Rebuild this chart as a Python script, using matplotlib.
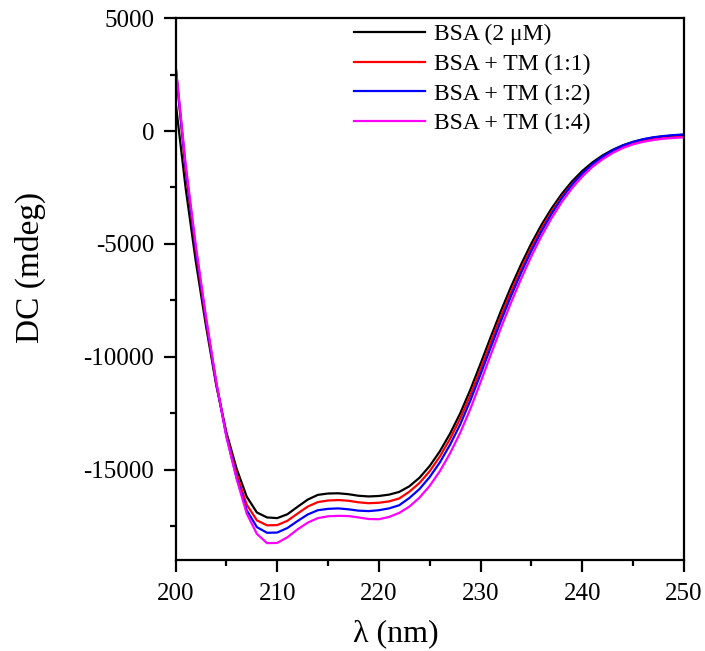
import matplotlib
matplotlib.use('Agg')
import matplotlib.pyplot as plt
from matplotlib.ticker import MultipleLocator

plt.rcParams['font.family'] = ['Liberation Serif', 'DejaVu Serif']
plt.rcParams['axes.unicode_minus'] = False

# wavelength (nm), 1 nm steps
wl = list(range(200, 251))

bsa = [1300, -2550, -5800, -8650, -11250, -13350, -14950, -16200, -16900, -17120,
       -17150, -16980, -16650, -16330, -16120, -16060, -16050, -16090, -16160, -16190,
       -16170, -16110, -15990, -15740, -15360, -14840, -14190, -13410, -12510, -11460,
       -10310, -9130, -7980, -6900, -5900, -4980, -4150, -3420, -2780, -2230,
       -1770, -1390, -1080, -830, -630, -480, -370, -290, -235, -195,
       -165]
tm_11 = [2850, -1800, -5350, -8450, -11200, -13450, -15200, -16550, -17250, -17470,
         -17460, -17270, -16950, -16640, -16440, -16370, -16350, -16380, -16450, -16490,
         -16470, -16410, -16280, -15980, -15590, -15070, -14420, -13640, -12740, -11700,
         -10550, -9370, -8210, -7120, -6100, -5170, -4320, -3570, -2910, -2350,
         -1880, -1490, -1170, -915, -710, -555, -445, -365, -310, -275,
         -250]
tm_12 = [2900, -1650, -5250, -8350, -11150, -13500, -15350, -16800, -17550, -17800,
         -17790, -17590, -17280, -16990, -16800, -16740, -16720, -16760, -16820, -16840,
         -16800, -16720, -16580, -16260, -15860, -15330, -14680, -13900, -13000, -11940,
         -10780, -9590, -8420, -7310, -6270, -5310, -4440, -3660, -2970, -2380,
         -1880, -1470, -1130, -860, -640, -480, -360, -275, -220, -180,
         -150]
tm_14 = [2950, -1500, -5100, -8250, -11100, -13550, -15400, -16950, -17850, -18260,
         -18250, -18000, -17650, -17350, -17150, -17070, -17050, -17060, -17120, -17190,
         -17200, -17100, -16920, -16640, -16240, -15720, -15070, -14280, -13370, -12310,
         -11130, -9920, -8730, -7600, -6540, -5550, -4650, -3850, -3140, -2530,
         -2020, -1590, -1250, -970, -750, -590, -475, -395, -340, -305,
         -280]

series = [bsa, tm_11, tm_12, tm_14]
labels = ['BSA (2 μM)', 'BSA + TM (1:1)', 'BSA + TM (1:2)', 'BSA + TM (1:4)']
colors = ['black', 'red', 'blue', 'magenta']

fig = plt.figure(figsize=(7.05, 6.51), dpi=100)
ax = fig.add_axes([0.249, 0.140, 0.721, 0.832])

for y, lab, c in zip(series, labels, colors):
    ax.plot(wl, y, color=c, lw=1.6, label=lab)

ax.set_xlim(200, 250)
ax.set_ylim(-19000, 5000)
ax.xaxis.set_major_locator(MultipleLocator(10))
ax.xaxis.set_minor_locator(MultipleLocator(5))
ax.yaxis.set_major_locator(MultipleLocator(5000))
ax.yaxis.set_minor_locator(MultipleLocator(2500))
ax.tick_params(which='both', direction='out', width=1.6, labelsize=18)
ax.tick_params(which='major', length=8.5)
ax.tick_params(which='minor', length=4.5)
ax.tick_params(axis='x', which='major', pad=8)
ax.tick_params(axis='y', which='major', pad=7)
for s in ax.spines.values():
    s.set_linewidth(1.6)

ax.set_xlabel('λ (nm)', fontsize=23)
ax.set_ylabel('DC (mdeg)', fontsize=24)
ax.xaxis.set_label_coords(0.434, -0.110)
ax.yaxis.set_label_coords(-0.255, 0.539)

ax.legend(loc='upper left', bbox_to_anchor=(0.328, 1.012), frameon=False, fontsize=17,
          handlelength=3.0, handletextpad=0.4, labelspacing=0.35, borderpad=0)

fig.savefig('out.png', dpi=100)
